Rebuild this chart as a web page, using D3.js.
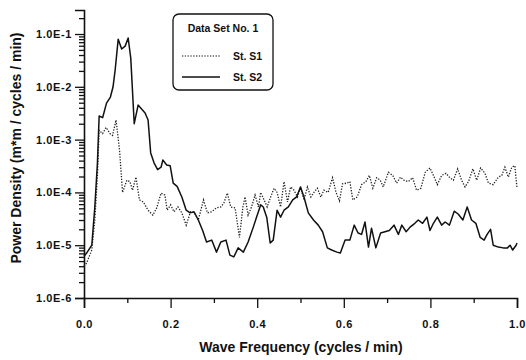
<!DOCTYPE html>
<html>
<head>
<meta charset="utf-8">
<script src="https://cdn.jsdelivr.net/npm/d3@7"></script>
<style>
  body { margin: 0; background: #fff; }
  svg { display: block; font-family: "Liberation Sans", Arial, sans-serif; font-weight: bold; }
</style>
</head>
<body>
<svg id="chart"></svg>
<script>
// Station S1 (dotted)
const s1Freq = [
  0, 0.006, 0.018, 0.025, 0.031, 0.035, 0.043, 0.051, 0.060, 0.066,
  0.074, 0.082, 0.089, 0.099, 0.106, 0.112, 0.120, 0.128, 0.137, 0.148,
  0.159, 0.168, 0.178, 0.187, 0.192, 0.200, 0.208, 0.217, 0.226, 0.236,
  0.246, 0.255, 0.264, 0.276, 0.285, 0.295, 0.306, 0.316, 0.323, 0.331,
  0.339, 0.349, 0.359, 0.367, 0.372, 0.379, 0.387, 0.395, 0.403, 0.408,
  0.416, 0.423, 0.431, 0.439, 0.446, 0.454, 0.462, 0.470, 0.477, 0.485,
  0.493, 0.500, 0.508, 0.516, 0.524, 0.531, 0.539, 0.547, 0.554, 0.564,
  0.574, 0.582, 0.590, 0.597, 0.607, 0.614, 0.621, 0.631, 0.641, 0.651,
  0.659, 0.667, 0.676, 0.684, 0.691, 0.703, 0.713, 0.722, 0.731, 0.739,
  0.749, 0.759, 0.768, 0.778, 0.788, 0.799, 0.807, 0.816, 0.826, 0.836,
  0.845, 0.853, 0.863, 0.872, 0.880, 0.888, 0.898, 0.907, 0.916, 0.926,
  0.934, 0.945, 0.957, 0.965, 0.972, 0.980, 0.988, 0.995, 1.0
];
const s1Power = [
  4.0e-6, 4.6e-6, 8.1e-6, 3.0e-5, 2.1e-4, 1.5e-3, 1.3e-3, 1.7e-3, 1.3e-3, 1.2e-3,
  2.35e-3, 6.4e-4, 1.0e-4, 1.7e-4, 1.6e-4, 1.1e-4, 1.95e-4, 7.2e-5, 6.6e-5, 4.6e-5,
  3.7e-5, 5.1e-5, 9.7e-5, 8.9e-5, 4.6e-5, 5.8e-5, 4.3e-5, 5.3e-5, 4.1e-5, 2.4e-5,
  4.3e-5, 4.1e-5, 3.0e-5, 7.2e-5, 4.1e-5, 4.3e-5, 5.1e-5, 5.3e-5, 6.3e-5, 9.7e-5,
  5.3e-5, 5.1e-5, 1.4e-5, 5.3e-5, 8.2e-5, 3.7e-5, 5.3e-5, 8.9e-5, 5.3e-5, 1.0e-4,
  7.2e-5, 5.3e-5, 8.2e-5, 1.2e-4, 1.0e-4, 5.3e-5, 1.6e-4, 6.6e-5, 1.27e-4, 1.1e-4,
  8.2e-5, 1.27e-4, 7.2e-5, 1.27e-4, 8.2e-5, 1.0e-4, 1.2e-4, 8.2e-5, 1.1e-4, 1.0e-4,
  1.9e-4, 1.0e-4, 6.9e-5, 1.45e-4, 1.5e-4, 1.6e-4, 7.2e-5, 8.2e-5, 1.4e-4, 1.6e-4,
  2.1e-4, 1.2e-4, 1.9e-4, 1.7e-4, 1.27e-4, 2.4e-4, 2.1e-4, 1.5e-4, 1.95e-4, 1.7e-4,
  1.6e-4, 1.9e-4, 1.1e-4, 1.2e-4, 2.4e-4, 2.9e-4, 2.1e-4, 1.4e-4, 2.1e-4, 2.3e-4,
  1.9e-4, 1.7e-4, 2.8e-4, 1.7e-4, 1.27e-4, 1.6e-4, 2.8e-4, 1.7e-4, 2.9e-4, 2.3e-4,
  1.5e-4, 1.4e-4, 1.95e-4, 2.1e-4, 3.0e-4, 1.95e-4, 3.0e-4, 3.2e-4, 1.2e-4
];

// Station S2 (solid)
const s2Freq = [
  0, 0.006, 0.018, 0.025, 0.031, 0.035, 0.043, 0.052, 0.061, 0.067,
  0.072, 0.079, 0.087, 0.095, 0.102, 0.108, 0.116, 0.125, 0.133, 0.141,
  0.148, 0.154, 0.162, 0.170, 0.178, 0.182, 0.191, 0.199, 0.206, 0.215,
  0.226, 0.236, 0.245, 0.254, 0.264, 0.274, 0.283, 0.295, 0.306, 0.316,
  0.328, 0.337, 0.346, 0.356, 0.368, 0.379, 0.391, 0.400, 0.408, 0.414,
  0.422, 0.430, 0.437, 0.446, 0.454, 0.462, 0.472, 0.482, 0.491, 0.500,
  0.508, 0.518, 0.530, 0.541, 0.551, 0.562, 0.572, 0.584, 0.592, 0.603,
  0.614, 0.624, 0.633, 0.641, 0.649, 0.657, 0.664, 0.674, 0.685, 0.695,
  0.705, 0.716, 0.726, 0.734, 0.744, 0.753, 0.764, 0.772, 0.782, 0.792,
  0.799, 0.807, 0.816, 0.826, 0.834, 0.844, 0.855, 0.864, 0.875, 0.885,
  0.895, 0.905, 0.915, 0.924, 0.931, 0.939, 0.945, 0.957, 0.968, 0.978,
  0.984, 0.990, 0.998, 1.0
];
const s2Power = [
  6.2e-6, 7.1e-6, 1.0e-5, 5.3e-5, 3.6e-4, 2.8e-3, 2.6e-3, 4.9e-3, 6.4e-3, 9.9e-3,
  2.1e-2, 8.0e-2, 5.2e-2, 5.9e-2, 8.4e-2, 3.5e-2, 2.0e-3, 4.5e-3, 3.8e-3, 3.2e-3,
  2.35e-3, 5.6e-4, 3.6e-4, 2.7e-4, 3.0e-4, 4.1e-4, 3.3e-4, 3.2e-4, 1.5e-4, 1.3e-4,
  8.2e-5, 4.6e-5, 4.1e-5, 4.3e-5, 3.0e-5, 1.9e-5, 1.15e-5, 1.25e-5, 7.4e-6, 1.15e-5,
  1.25e-5, 6.5e-6, 6.0e-6, 8.9e-6, 7.4e-6, 1.15e-5, 2.2e-5, 3.7e-5, 5.8e-5, 5.3e-5,
  3.4e-5, 1.1e-5, 1.25e-5, 4.6e-5, 3.4e-5, 4.6e-5, 5.3e-5, 7.2e-5, 8.2e-5, 1.27e-4,
  8.2e-5, 4.1e-5, 3.0e-5, 2.4e-5, 1.8e-5, 8.9e-6, 8.1e-6, 7.4e-6, 7.1e-6, 1.25e-5,
  1.25e-5, 2.4e-5, 1.7e-5, 1.6e-5, 2.75e-5, 9.2e-6, 2.1e-5, 8.9e-6, 1.7e-5, 1.8e-5,
  1.9e-5, 2.4e-5, 1.6e-5, 2.4e-5, 1.8e-5, 2.2e-5, 2.6e-5, 3.0e-5, 2.6e-5, 3.4e-5,
  1.9e-5, 2.6e-5, 3.4e-5, 2.4e-5, 2.75e-5, 2.4e-5, 4.4e-5, 3.9e-5, 3.0e-5, 5.3e-5,
  3.0e-5, 2.6e-5, 1.4e-5, 1.25e-5, 1.6e-5, 2.0e-5, 1.0e-5, 9.2e-6, 8.9e-6, 8.9e-6,
  1.0e-5, 8.1e-6, 1.0e-5, 1.1e-5
];

const xMajorTicks = [0, 0.2, 0.4, 0.6, 0.8, 1.0];
const xMinorTicks = [0.1, 0.3, 0.5, 0.7, 0.9];
const yMajorTicks = [1e-6, 1e-5, 1e-4, 1e-3, 1e-2, 1e-1];

const legendTitle = "Data Set No. 1";
const seriesNames = ["St. S1", "St. S2"];

// chart size and plot area
const width = 526;
const height = 360;
const marginLeft = 84;
const marginRight = 9;
const marginTop = 10;
const marginBottom = 62;

const svg = d3.select("#chart")
    .attr("width", width)
    .attr("height", height);

const x = d3.scaleLinear()
    .domain([0, 1])
    .range([marginLeft, width - marginRight]);

const y = d3.scaleLog()
    .domain([1e-6, 0.285])
    .range([height - marginBottom, marginTop]);

const ink = "#111";

// minor y ticks (2..9 of each decade)
const yMinor = y.ticks().filter(v => !yMajorTicks.some(m => Math.abs(m - v) / m < 1e-6));

svg.append("g")
    .attr("transform", `translate(${marginLeft},0)`)
    .call(d3.axisLeft(y).tickValues(yMinor).tickSize(5).tickFormat(""))
    .call(g => g.select(".domain").remove());

svg.append("g")
    .attr("transform", `translate(${marginLeft},0)`)
    .call(d3.axisLeft(y).tickValues(yMajorTicks).tickSizeOuter(0).tickSize(9).tickPadding(3)
        .tickFormat(d => "1.0E" + Math.round(Math.log10(d))))
    .call(g => g.selectAll("text").attr("font-size", 11).attr("font-weight", "bold")
        .attr("font-family", "Liberation Sans, Arial, sans-serif").attr("letter-spacing", 0.6));

// x axis
svg.append("g")
    .attr("transform", `translate(0,${height - marginBottom})`)
    .call(d3.axisBottom(x).tickValues(xMinorTicks).tickSize(5).tickFormat(""))
    .call(g => g.select(".domain").remove());

svg.append("g")
    .attr("transform", `translate(0,${height - marginBottom})`)
    .call(d3.axisBottom(x).tickValues(xMajorTicks).tickSizeOuter(0).tickSize(10).tickPadding(12)
        .tickFormat(d3.format(".1f")))
    .call(g => g.selectAll("text").attr("font-size", 11).attr("font-weight", "bold")
        .attr("font-family", "Liberation Sans, Arial, sans-serif").attr("letter-spacing", 0.6));

svg.selectAll(".tick line").attr("stroke", ink).attr("stroke-width", 1.3);
svg.selectAll(".domain").attr("stroke", ink).attr("stroke-width", 1.6);
svg.selectAll(".tick text").attr("fill", ink);

// axis titles
svg.append("text")
    .attr("x", 301)
    .attr("y", 352)
    .attr("text-anchor", "middle")
    .attr("font-size", 14)
    .attr("fill", ink)
    .text("Wave Frequency (cycles / min)");

svg.append("text")
    .attr("transform", "translate(21,148) rotate(-90)")
    .attr("text-anchor", "middle")
    .attr("font-size", 14)
    .attr("fill", ink)
    .text("Power Density (m*m / cycles / min)");

// series
const line = d3.line()
    .x(d => x(d[0]))
    .y(d => y(d[1]));

svg.append("path")
    .datum(d3.zip(s1Freq, s1Power))
    .attr("fill", "none")
    .attr("stroke", "#222")
    .attr("stroke-width", 1.3)
    .attr("stroke-dasharray", "1.3,1.5")
    .attr("d", line);

svg.append("path")
    .datum(d3.zip(s2Freq, s2Power))
    .attr("fill", "none")
    .attr("stroke", ink)
    .attr("stroke-width", 1.5)
    .attr("stroke-linejoin", "round")
    .attr("d", line);

// legend
const legend = svg.append("g").attr("transform", "translate(173,14)");

legend.append("rect")
    .attr("width", 100)
    .attr("height", 76)
    .attr("rx", 6)
    .attr("fill", "#fff")
    .attr("stroke", ink)
    .attr("stroke-width", 1.3);

legend.append("text")
    .attr("x", 50)
    .attr("y", 18)
    .attr("text-anchor", "middle")
    .attr("font-size", 10.5)
    .attr("fill", ink)
    .text(legendTitle);

seriesNames.forEach((name, i) => {
  const ly = 42 + i * 21;
  legend.append("line")
      .attr("x1", 9).attr("x2", 47)
      .attr("y1", ly).attr("y2", ly)
      .attr("stroke", ink)
      .attr("stroke-width", i === 0 ? 1.2 : 1.4)
      .attr("stroke-dasharray", i === 0 ? "1.3,1.5" : null);
  legend.append("text")
      .attr("x", 60)
      .attr("y", ly + 4)
      .attr("font-size", 10.5)
      .attr("fill", ink)
      .text(name);
});
</script>
</body>
</html>
